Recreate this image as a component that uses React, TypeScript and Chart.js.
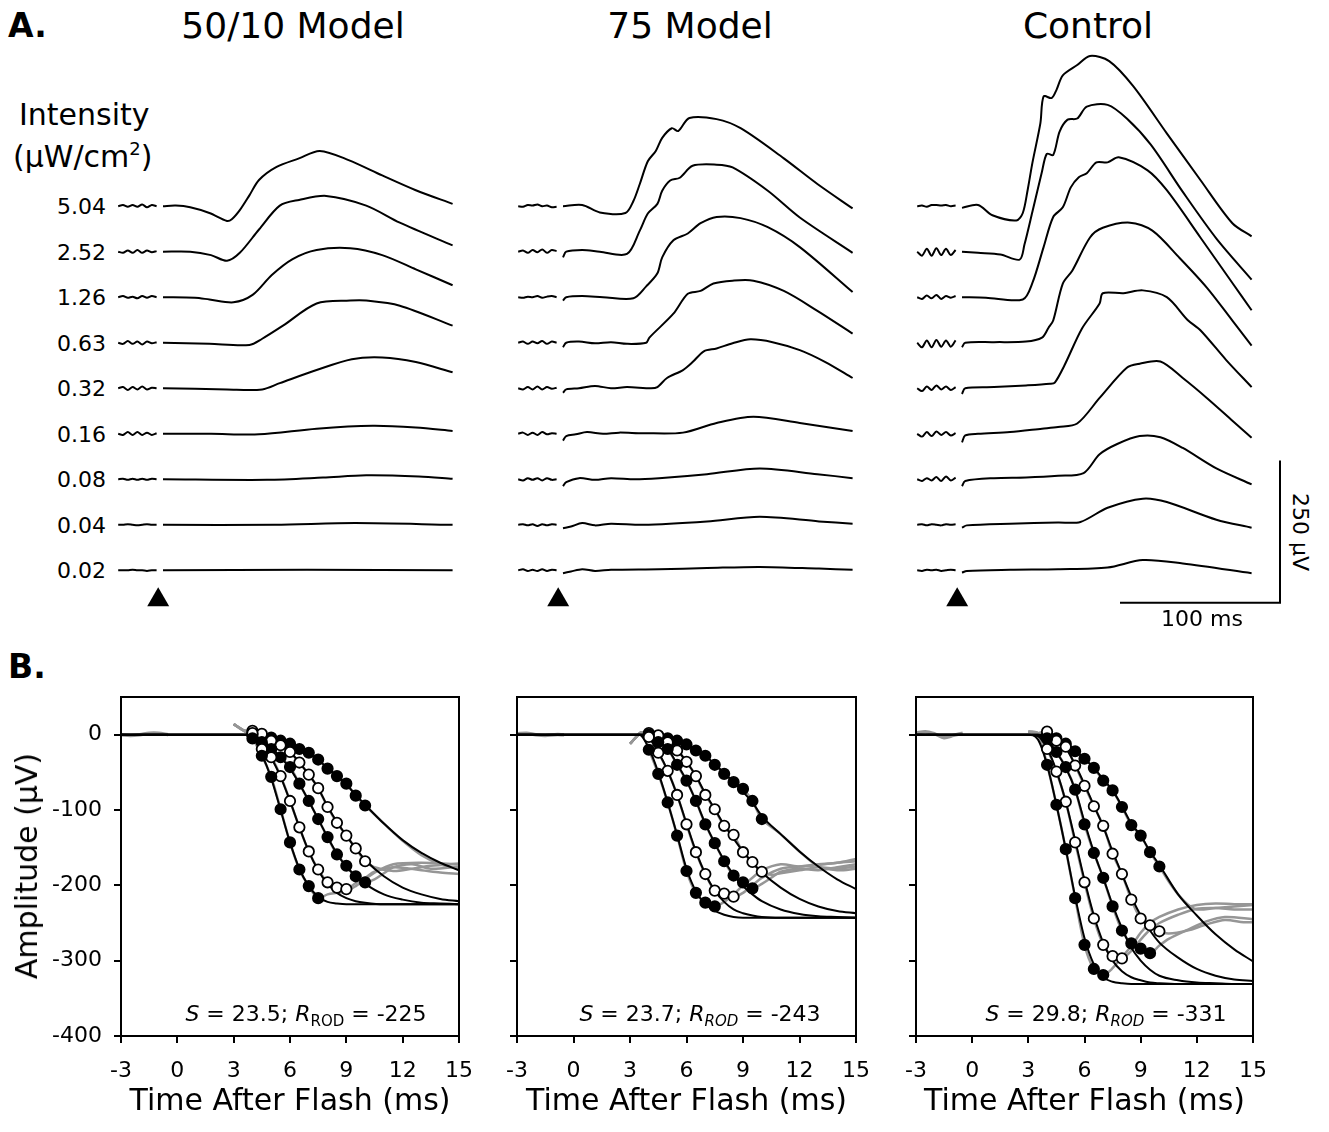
import React, { useEffect, useRef } from "react";
import { Chart, registerables } from "chart.js";

Chart.register(...registerables);

const FONT = '"DejaVu Sans", Verdana, "Noto Sans", sans-serif';
Chart.defaults.font.family = FONT;

// ================= Panel A : ERG traces =================
const GROUP_TITLES = ["50/10 Model", "75 Model", "Control"];
const INTENSITY_LABELS = ["5.04", "2.52", "1.26", "0.63", "0.32", "0.16", "0.08", "0.04", "0.02"];
const PRE_T = [-28, -25, -22, -19, -16, -13, -10, -7, -4]; // ms, pre-flash segment
const FLASH_MARK_T = -3;

// pre-flash values (µV), top (5.04) to bottom (0.02)
const PRE_5010 = [
  [0, 2, -1, 2, -1, 3, -2, 2, 0],
  [0, -2, 2, -2, 3, -2, 2, -1, 1],
  [0, 2, -1, 1, -2, 2, -1, 2, 0],
  [0, -2, 3, -2, 2, -3, 2, -1, 1],
  [0, 2, -3, 2, -2, 3, -2, 1, 0],
  [0, -2, 3, -2, 3, -2, 2, -2, 1],
  [0, 1, -1, 1, -1, 1, -1, 1, 0],
  [0, 0, 1, 0, -1, 0, 1, 0, 0],
  [0, 0, 0, 1, 0, 0, -1, 0, 0],
];
const PRE_75 = [
  [0, -1, 2, 1, 3, 0, 1, -2, -1],
  [0, 2, -2, 3, -1, 4, -2, 3, 1],
  [0, -1, 1, 0, 2, -1, 1, 2, 0],
  [0, 2, -2, 2, -1, 3, -2, 2, 0],
  [0, -2, 2, -2, 3, -2, 2, -1, 1],
  [0, 2, -2, 2, -2, 3, -1, 1, 0],
  [0, -2, 2, -1, 2, -2, 2, -1, 0],
  [0, 1, -1, 1, -2, 1, -1, 1, 0],
  [0, 2, -1, 1, -1, 2, -1, 1, 0],
];
const PRE_CTRL = [
  [0, 1, -1, 2, 2, 1, 2, 0, 1],
  [0, -7, 5, -7, 6, -6, 5, -6, 3],
  [0, -3, 3, -2, 4, -3, 2, -1, 2],
  [0, -8, 4, -8, 5, -7, 4, -7, 4],
  [0, -5, 3, -3, 5, -2, 3, -3, 2],
  [0, -5, 3, -4, 4, -2, 3, -3, 1],
  [0, -3, 2, -2, 4, -3, 5, -2, 3],
  [0, 1, -1, 1, 0, -1, 1, 0, 1],
  [0, -1, 1, 0, 1, -1, 0, 1, 0],
];

// post-flash traces: [ms, µV]
const L504: [number, number][] = [[0, 0], [8, 1], [17, -2], [29, -12], [40, -26], [43, -23], [48, -7], [54, 19], [60, 46], [71, 69], [85, 84], [98, 97], [116, 81], [137, 54], [158, 28], [181, 4]];
const L252: [number, number][] = [[0, 0], [17, 0], [30, -6], [40, -16], [48, -2], [60, 39], [73, 81], [85, 91], [102, 98], [127, 81], [148, 51], [181, 11]];
const L126: [number, number][] = [[0, 0], [20, -1], [29, -4], [44, -9], [56, 4], [68, 39], [81, 67], [96, 83], [117, 86], [137, 74], [158, 49], [181, 21]];
const L063: [number, number][] = [[0, 0], [29, -2], [54, -4], [62, 7], [75, 30], [96, 69], [117, 74], [127, 74], [148, 65], [181, 30]];
const L032: [number, number][] = [[0, 0], [40, -2], [62, -2], [73, 9], [96, 32], [118, 51], [137, 54], [158, 46], [181, 28]];
const L016: [number, number][] = [[0, 0], [30, 0], [60, -1], [96, 9], [131, 14], [158, 11], [181, 5]];
const L008: [number, number][] = [[0, 0], [65, -1], [100, 3], [127, 7], [160, 5], [181, 1]];
const L004: [number, number][] = [[0, 0], [70, 0], [120, 3], [181, 0]];
const L002: [number, number][] = [[0, 0], [90, 1], [181, 0]];

const M504: [number, number][] = [[0, 0], [12, 2], [23, -11], [39, -12], [44, 9], [48, 39], [53, 79], [58, 97], [62, 120], [68, 137], [72, 132], [79, 155], [96, 153], [111, 137], [138, 84], [159, 39], [181, -4]];
const M252: [number, number][] = [[0, -10], [2, 0], [12, 3], [23, 0], [40, -4], [48, 37], [53, 67], [59, 84], [62, 107], [67, 125], [73, 130], [81, 151], [96, 153], [106, 148], [128, 107], [148, 60], [181, -2]];
const M126: [number, number][] = [[0, -6], [2, 0], [12, 2], [25, 0], [44, -2], [52, 19], [59, 42], [62, 70], [69, 100], [78, 112], [86, 130], [96, 141], [111, 139], [128, 123], [148, 88], [181, 9]];
const M063: [number, number][] = [[0, -8], [2, 0], [10, 2], [20, -1], [30, 1], [40, -2], [52, 0], [54, 9], [69, 51], [78, 86], [86, 91], [94, 104], [106, 109], [119, 109], [138, 91], [159, 56], [181, 16]];
const M032: [number, number][] = [[0, -8], [2, -2], [10, 0], [20, 4], [30, 0], [40, 2], [55, 0], [59, 2], [65, 18], [75, 32], [81, 46], [88, 65], [96, 70], [106, 79], [117, 86], [131, 81], [148, 67], [164, 46], [181, 18]];
const M016: [number, number][] = [[0, -12], [2, -4], [8, -1], [15, 3], [25, 0], [35, 2], [50, 1], [75, 2], [96, 19], [119, 30], [148, 19], [181, 5]];
const M008: [number, number][] = [[0, -12], [2, -5], [10, 2], [20, -1], [30, 2], [45, 0], [60, 2], [90, 9], [123, 19], [159, 9], [181, 2]];
const M004: [number, number][] = [[0, -6], [5, -3], [12, 3], [20, -1], [30, 2], [50, 0], [90, 6], [123, 14], [160, 6], [181, 2]];
const M002: [number, number][] = [[0, -5], [5, -2], [12, 2], [20, -1], [30, 1], [60, 2], [90, 4], [123, 6], [160, 3], [181, 1]];

const R504: [number, number][] = [[0, -3], [10, 2], [19, -16], [34, -25], [38, -12], [41, 28], [44, 76], [49, 146], [51, 193], [56, 190], [59, 204], [63, 230], [72, 248], [80, 264], [92, 255], [107, 211], [128, 128], [149, 46], [169, -30], [181, -53]];
const R252: [number, number][] = [[0, 0], [10, -2], [24, -5], [36, -14], [39, 12], [44, 70], [50, 141], [53, 172], [57, 170], [61, 211], [66, 232], [72, 234], [78, 255], [91, 258], [103, 234], [118, 188], [138, 105], [159, 23], [181, -49]];
const R126: [number, number][] = [[0, 0], [15, -1], [38, -4], [44, 25], [51, 88], [57, 141], [63, 158], [68, 193], [73, 211], [78, 218], [84, 237], [91, 237], [98, 246], [116, 223], [128, 188], [149, 105], [169, 25], [181, -23]];
const R063: [number, number][] = [[0, -8], [2, 0], [20, 1], [40, 2], [50, 9], [54, 26], [57, 39], [63, 104], [69, 127], [80, 185], [88, 202], [105, 211], [119, 197], [136, 149], [153, 97], [169, 39], [181, -5]];
const R032: [number, number][] = [[0, -10], [2, 0], [20, 2], [40, 5], [55, 8], [58, 10], [64, 40], [75, 105], [86, 149], [88, 167], [101, 167], [113, 172], [128, 160], [141, 120], [149, 102], [165, 50], [181, 2]];
const R016: [number, number][] = [[0, -15], [2, -3], [10, 0], [30, 3], [50, 9], [60, 12], [72, 18], [86, 63], [103, 116], [111, 123], [124, 127], [138, 98], [153, 63], [169, 23], [181, -7]];
const R008: [number, number][] = [[0, -12], [2, -3], [20, 2], [40, 3], [60, 6], [76, 11], [86, 44], [97, 62], [111, 76], [124, 74], [138, 55], [159, 19], [181, -9]];
const R004: [number, number][] = [[0, -5], [3, -1], [30, 2], [60, 4], [74, 5], [91, 30], [113, 46], [128, 40], [159, 9], [181, -5]];
const R002: [number, number][] = [[0, -4], [3, -1], [30, 1], [60, 2], [91, 5], [113, 18], [138, 12], [181, -5]];

const MAIN_5010 = [L504, L252, L126, L063, L032, L016, L008, L004, L002];
const MAIN_75 = [M504, M252, M126, M063, M032, M016, M008, M004, M002];
const MAIN_CTRL = [R504, R252, R126, R063, R032, R016, R008, R004, R002];

const SCALE_MS = 100;
const SCALE_UV = 250;

// ================= Panel B : a-wave fits =================
const B_FIT_T = [-3, 3, 3.5, 4, 4.5, 5, 5.5, 6, 6.5, 7, 7.5, 8, 8.5, 9, 9.5, 10, 11, 12, 13, 14, 15];
const B_MARK_T = [4, 4.5, 5, 5.5, 6, 6.5, 7, 7.5, 8, 8.5, 9, 9.5, 10];
const B_FILLED = [true, false, true, false, true];
const B_S = ["23.5", "23.7", "29.8"];
const B_RROD = ["-225", "-243", "-331"];

// 50/10 Model
const FIT_5010 = [
  [0, 0, 0, -3, -26, -58, -100, -143, -178, -201, -215, -222, -224, -225, -225, -225, -225, -225, -225, -225, -225],
  [0, 0, 0, -1, -14, -31, -56, -88, -123, -155, -180, -198, -210, -217, -221, -223, -225, -225, -225, -225, -225],
  [0, 0, 0, 0, -7, -17, -30, -45, -65, -88, -112, -136, -158, -175, -188, -198, -212, -219, -223, -224, -225],
  [0, 0, 0, 0, -3, -8, -14, -23, -37, -53, -71, -95, -116, -134, -151, -166, -188, -203, -212, -218, -221],
  [0, 0, 0, 0, -1, -3, -7, -12, -18, -25, -34, -44, -55, -66, -80, -93, -118, -140, -157, -170, -180],
];
const MARK_5010 = [
  [-5, -28, -56, -99, -143, -179, -201, -217],
  [2, -19, -30, -55, -88, -123, -155, -179, -196, -203, -205],
  [0, -10, -19, -30, -43, -65, -88, -112, -136, -159, -174, -188, -196],
  [5, 1, -8, -14, -23, -37, -53, -71, -96, -117, -134, -151, -168],
  [0, -2, -4, -8, -12, -19, -24, -33, -45, -55, -65, -81, -94],
];
const TAIL_5010: [number, number][][] = [
  [[8, -212], [8.5, -210], [9, -208], [9.5, -201], [10, -192], [10.5, -183], [11.5, -172], [13, -170], [15, -172]],
  [[9.5, -197], [10, -190], [10.5, -182], [11.5, -176], [13, -180], [14, -183], [15, -185]],
  [[10.5, -192], [11, -184], [11.5, -176], [12.5, -172], [13.5, -178], [15, -175]],
  [[10.5, -176], [11.5, -181], [12.5, -178], [13.5, -174], [15, -171]],
  [[11, -118], [12, -141], [13, -160], [14, -172], [15, -178]],
];
const ONSET_5010: [number, number][] = [[3, 14], [3.5, 6]];
const BPRE_5010: [number, number][] = [[-3, 0], [-2.5, -1], [-2, 0], [-1.5, 2], [-1, 2], [-0.5, 0]];

// 75 Model
const FIT_75 = [
  [0, 0, 0, -18, -50, -90, -133, -178, -208, -225, -234, -239, -242, -243, -243, -243, -243, -243, -243, -243, -243],
  [0, 0, 0, -4, -23, -48, -80, -118, -155, -185, -207, -222, -232, -237, -240, -242, -243, -243, -243, -243, -243],
  [0, 0, 0, -1, -8, -19, -39, -61, -88, -118, -144, -167, -186, -201, -212, -221, -232, -238, -241, -242, -243],
  [0, 0, 0, 0, -2, -9, -20, -36, -55, -78, -99, -120, -138, -155, -170, -183, -203, -218, -228, -234, -237],
  [0, 0, 0, 0, -1, -4, -8, -13, -20, -28, -39, -51, -63, -76, -90, -108, -132, -155, -175, -192, -205],
];
const MARK_75 = [
  [-20, -52, -90, -134, -181, -210, -223, -228],
  [-3, -24, -48, -80, -119, -156, -185, -207, -211, -215],
  [0, -10, -19, -40, -61, -88, -119, -144, -168, -187, -196, -204],
  [2, -1, -10, -21, -36, -55, -80, -99, -121, -133, -156, -169, -182],
  [0, -2, -5, -8, -13, -21, -28, -40, -52, -63, -72, -88, -112],
];
const TAIL_75: [number, number][][] = [
  [[8, -222], [8.5, -212], [9, -200], [9.5, -190], [10, -180], [11, -172], [12, -175], [13, -173], [14, -170], [15, -168]],
  [[9, -210], [9.5, -200], [10, -190], [11, -178], [12, -175], [13, -172], [14, -170], [15, -165]],
  [[10, -198], [10.5, -190], [11, -182], [12, -178], [13, -180], [14, -176], [15, -172]],
  [[10.5, -186], [11, -184], [12, -180], [13, -176], [14, -178], [15, -175]],
  [[11, -132], [12, -155], [13, -175], [14, -180], [15, -178]],
];
const ONSET_75: [number, number][] = [[3, -12], [3.3, -4], [3.6, 3]];
const BPRE_75: [number, number][] = [[-3, 1], [-2.5, 2], [-2, 0], [-1.5, -1], [-1, 0], [-0.5, 0]];

// Control
const FIT_CTRL = [
  [0, 0, -6, -40, -93, -152, -215, -270, -305, -322, -328, -330, -331, -331, -331, -331, -331, -331, -331, -331, -331],
  [0, 0, -2, -18, -48, -89, -140, -193, -240, -276, -300, -314, -322, -326, -329, -330, -331, -331, -331, -331, -331],
  [0, 0, -1, -7, -23, -44, -73, -116, -156, -190, -226, -257, -283, -300, -312, -320, -326, -329, -330, -331, -331],
  [0, 0, 0, -2, -8, -18, -40, -66, -94, -122, -155, -185, -215, -240, -260, -276, -296, -311, -320, -325, -327],
  [0, 0, 0, -1, -5, -11, -21, -32, -44, -59, -74, -95, -118, -134, -155, -173, -212, -240, -265, -285, -301],
];
const MARK_CTRL = [
  [-40, -93, -152, -217, -279, -311, -319],
  [-19, -49, -89, -143, -196, -244, -279, -294, -297],
  [-5, -23, -43, -73, -119, -157, -190, -228, -260, -277, -284, -290],
  [4, -8, -16, -41, -68, -95, -121, -158, -185, -219, -244, -253, -261],
  [0, -5, -12, -22, -32, -44, -61, -74, -96, -120, -134, -156, -175],
];
const TAIL_CTRL: [number, number][][] = [
  [[7.5, -310], [8, -295], [8.5, -281], [9, -263], [9.5, -250], [10, -242], [11, -232], [12, -226], [13, -224], [14, -225], [15, -225]],
  [[8.5, -287], [9, -272], [9.5, -259], [10, -250], [11, -239], [12, -231], [13, -230], [14, -232], [15, -232]],
  [[10, -280], [10.5, -271], [11.5, -259], [12.5, -248], [13.5, -242], [15, -245]],
  [[10.5, -264], [11.5, -260], [12.5, -252], [13.5, -246], [14.5, -249], [15, -249]],
  [[10.5, -195], [11, -212], [11.5, -225], [12, -232], [13, -230], [14, -228], [15, -226]],
];
const ONSET_CTRL: [number, number][] = [[3, 4], [3.5, 2]];
const BPRE_CTRL: [number, number][] = [[-3, 2], [-2.5, 4], [-2, 1], [-1.5, -4], [-1, -1], [-0.5, 2]];

const B_FITS = [FIT_5010, FIT_75, FIT_CTRL];
const B_MARKS = [MARK_5010, MARK_75, MARK_CTRL];
const B_TAILS = [TAIL_5010, TAIL_75, TAIL_CTRL];
const B_ONSETS = [ONSET_5010, ONSET_75, ONSET_CTRL];
const B_PRES = [BPRE_5010, BPRE_75, BPRE_CTRL];

// ================= Layout =================
const A_PX_PER_MS = 1.6;
const A_PX_PER_UV = 0.569;
const A_SPACING_UV = 80;
const A_TOP = 41;
const A_HEIGHT = 572;
const A_Y_MIN = -75;
const A_X_MIN = -30;
const A_ZERO_PX = [163, 563, 962];
const A_X_MAX = [185, 185, 201.25];
const A_BASE_PX = A_TOP + A_HEIGHT + A_Y_MIN * A_PX_PER_UV;
const FLASH_MARK_UV = -52;
const SCALE_END_T = 198.75;
const SCALE_Y = -57;

const B_AREA_LEFT = [121, 517, 916];
const B_AREA_RIGHT = [459, 856, 1253];
const B_AREA_TOP = 697;
const B_AREA_BOTTOM = 1036;
const B_YW = 81;
const B_XH = 50;
const B_PAD_TOP = 30;
const B_PAD_RIGHT = 40;

const MAINS = [MAIN_5010, MAIN_75, MAIN_CTRL];
const PRES = [PRE_5010, PRE_75, PRE_CTRL];

function TracePanel({ gi }: { gi: number }) {
  const ref = useRef<HTMLCanvasElement>(null);
  const width = Math.round((A_X_MAX[gi] - A_X_MIN) * A_PX_PER_MS);
  useEffect(() => {
    const pre = PRES[gi];
    const main = MAINS[gi];
    const line = { borderColor: "#000", borderWidth: 2, pointRadius: 0, tension: 0.3, fill: false };
    const datasets: any[] = [];
    main.forEach((tr, k) => {
      const off = (main.length - 1 - k) * A_SPACING_UV;
      datasets.push({ ...line, data: PRE_T.map((t, i) => ({ x: t, y: pre[k][i] + off })) });
      datasets.push({ ...line, data: tr.map(([t, v]) => ({ x: t, y: v + off })) });
    });
    datasets.push({
      data: [{ x: FLASH_MARK_T, y: FLASH_MARK_UV }],
      showLine: false,
      pointStyle: "triangle",
      pointRadius: 12.7,
      pointBackgroundColor: "#000",
      pointBorderColor: "#000",
      pointBorderWidth: 0,
    });
    if (gi === 2) {
      datasets.push({
        ...line,
        tension: 0,
        data: [
          { x: SCALE_END_T - SCALE_MS, y: SCALE_Y },
          { x: SCALE_END_T, y: SCALE_Y },
          { x: SCALE_END_T, y: SCALE_Y + SCALE_UV },
        ],
      });
    }
    const chart = new Chart(ref.current!, {
      type: "line",
      data: { datasets },
      options: {
        responsive: false,
        animation: false,
        events: [],
        layout: { padding: 0, autoPadding: false },
        plugins: { legend: { display: false }, tooltip: { enabled: false } },
        scales: {
          x: { type: "linear", display: false, min: A_X_MIN, max: A_X_MAX[gi] },
          y: { type: "linear", display: false, min: A_Y_MIN, max: A_Y_MIN + A_HEIGHT / A_PX_PER_UV },
        },
      },
    });
    return () => chart.destroy();
  }, [gi]);
  return (
    <canvas
      ref={ref}
      width={width}
      height={A_HEIGHT}
      style={{ position: "absolute", left: A_ZERO_PX[gi] + A_X_MIN * A_PX_PER_MS, top: A_TOP, width, height: A_HEIGHT }}
    />
  );
}

const framePlugin = {
  id: "frame",
  afterDraw(chart: any) {
    const { ctx, chartArea } = chart;
    ctx.save();
    ctx.strokeStyle = "#000";
    ctx.lineWidth = 2;
    ctx.strokeRect(chartArea.left, chartArea.top, chartArea.right - chartArea.left, chartArea.bottom - chartArea.top);
    ctx.restore();
  },
};

function FitPanel({ pi }: { pi: number }) {
  const ref = useRef<HTMLCanvasElement>(null);
  const left = B_AREA_LEFT[pi] - B_YW;
  const top = B_AREA_TOP - B_PAD_TOP;
  const width = B_AREA_RIGHT[pi] + B_PAD_RIGHT - left;
  const height = B_AREA_BOTTOM + B_XH - top;
  useEffect(() => {
    const fits = B_FITS[pi];
    const marks = B_MARKS[pi];
    const tails = B_TAILS[pi];
    const onset = B_ONSETS[pi];
    const bpre = B_PRES[pi];
    const datasets: any[] = [];
    const gray = { borderColor: "rgb(150,150,150)", borderWidth: 2.5, pointRadius: 0, tension: 0.3, fill: false, order: 3 };
    datasets.push({ ...gray, borderWidth: 3.5, data: bpre.map(([t, v]) => ({ x: t, y: v })) });
    marks.forEach((m, s) => {
      const pts = [
        ...onset.map(([t, v]) => ({ x: t, y: v })),
        ...m.map((v, i) => ({ x: B_MARK_T[i], y: v })),
        ...tails[s].map(([t, v]) => ({ x: t, y: v })),
      ];
      datasets.push({ ...gray, data: pts });
    });
    fits.forEach((f) => {
      datasets.push({
        data: f.map((v, i) => ({ x: B_FIT_T[i], y: v })),
        borderColor: "#000",
        borderWidth: 2,
        pointRadius: 0,
        cubicInterpolationMode: "monotone",
        fill: false,
        order: 2,
      });
    });
    marks.forEach((m, s) => {
      datasets.push({
        data: m.map((v, i) => ({ x: B_MARK_T[i], y: v })),
        showLine: false,
        pointRadius: 5.2,
        pointBorderWidth: 1.8,
        pointBorderColor: "#000",
        pointBackgroundColor: B_FILLED[s] ? "#000" : "#fff",
        order: 1,
      });
    });
    const chart = new Chart(ref.current!, {
      type: "line",
      data: { datasets },
      plugins: [framePlugin],
      options: {
        responsive: false,
        animation: false,
        events: [],
        layout: { padding: { top: B_PAD_TOP, right: B_PAD_RIGHT, left: 0, bottom: 0 }, autoPadding: false },
        plugins: { legend: { display: false }, tooltip: { enabled: false } },
        scales: {
          x: {
            type: "linear",
            min: -3,
            max: 15,
            afterFit: (s: any) => { s.height = B_XH; },
            ticks: { stepSize: 3, color: "#000", font: { size: 22, family: FONT }, padding: 15, maxRotation: 0 },
            grid: { drawOnChartArea: false, drawTicks: true, tickLength: 7, color: "#000", lineWidth: 2 },
            border: { display: true, color: "#000", width: 2 },
          },
          y: {
            type: "linear",
            min: -400,
            max: 50,
            afterFit: (s: any) => { s.width = B_YW; },
            ticks: {
              stepSize: 100,
              includeBounds: false,
              color: "#000",
              font: { size: 22, family: FONT },
              padding: 12,
              callback: (v: any) => (pi === 0 ? String(v) : ""),
            },
            grid: { drawOnChartArea: false, drawTicks: true, tickLength: 7, color: "#000", lineWidth: 2 },
            border: { display: true, color: "#000", width: 2 },
          },
        },
      },
    });
    return () => chart.destroy();
  }, [pi]);
  return (
    <canvas ref={ref} width={width} height={height} style={{ position: "absolute", left, top, width, height }} />
  );
}

function Txt({ x, y, size, anchor = "start", bold = false, children }: any) {
  const tx = anchor === "middle" ? "-50%" : anchor === "end" ? "-100%" : "0";
  return (
    <div
      style={{
        position: "absolute",
        left: x,
        top: y - 0.846 * size,
        fontSize: size,
        lineHeight: 1,
        fontFamily: FONT,
        fontWeight: bold ? "bold" : "normal",
        whiteSpace: "nowrap",
        transform: `translateX(${tx})`,
        color: "#000",
      }}
    >
      {children}
    </div>
  );
}

export default function App() {
  const titleX = [293, 690, 1088];
  const annoX = [306, 700, 1106];
  return (
    <div style={{ position: "absolute", left: 0, top: 0, width: 1329, height: 1132, background: "#fff", overflow: "hidden" }}>
      <Txt x={8} y={37} size={33} bold>A.</Txt>
      <Txt x={8} y={678} size={33} bold>B.</Txt>
      {GROUP_TITLES.map((t, i) => (
        <Txt key={t} x={titleX[i]} y={38} size={36} anchor="middle">{t}</Txt>
      ))}
      <Txt x={19} y={125} size={30}>Intensity</Txt>
      <Txt x={13} y={167} size={30}>
        (µW/cm<sup style={{ fontSize: 18, verticalAlign: "top", position: "relative", top: -2 }}>2</sup>)
      </Txt>
      {INTENSITY_LABELS.map((l, k) => {
        const yb = A_BASE_PX - (INTENSITY_LABELS.length - 1 - k) * A_SPACING_UV * A_PX_PER_UV;
        return (
          <Txt key={l} x={106} y={yb + 8.5} size={22} anchor="end">{l}</Txt>
        );
      })}
      {[0, 1, 2].map((g) => (
        <TracePanel key={g} gi={g} />
      ))}
      <Txt x={1202} y={627} size={22} anchor="middle">{SCALE_MS} ms</Txt>
      <div
        style={{
          position: "absolute", left: 1300, top: 532, fontSize: 22, lineHeight: 1, fontFamily: FONT,
          whiteSpace: "nowrap", transform: "translate(-50%, -50%) rotate(90deg)",
        }}
      >
        {SCALE_UV} µV
      </div>

      {[0, 1, 2].map((p) => (
        <FitPanel key={p} pi={p} />
      ))}
      <div
        style={{
          position: "absolute", left: 27, top: 866, fontSize: 30, lineHeight: 1, fontFamily: FONT,
          whiteSpace: "nowrap", transform: "translate(-50%, -50%) rotate(-90deg)",
        }}
      >
        Amplitude (µV)
      </div>
      {[0, 1, 2].map((p) => (
        <Txt key={"xt" + p} x={(B_AREA_LEFT[p] + B_AREA_RIGHT[p]) / 2} y={1110} size={30} anchor="middle">
          Time After Flash (ms)
        </Txt>
      ))}
      {[0, 1, 2].map((p) => (
        <Txt key={"an" + p} x={annoX[p]} y={1022} size={22} anchor="middle">
          <i>S</i> = {B_S[p]}; <i>R</i>
          <sub style={{ fontSize: 15, fontStyle: p === 0 ? "normal" : "italic", verticalAlign: "baseline", position: "relative", top: 5 }}>ROD</sub>
          {" = "}
          {B_RROD[p]}
        </Txt>
      ))}
    </div>
  );
}
